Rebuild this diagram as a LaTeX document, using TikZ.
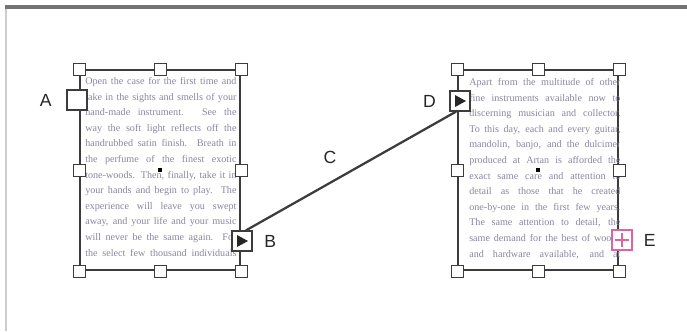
\documentclass[tikz,border=0pt]{standalone}
\usepackage{fontspec}
\setmainfont{Liberation Serif}
\newfontfamily\calloutfont{Liberation Sans}
\usetikzlibrary{positioning, calc}
\definecolor{framegray}{RGB}{60,60,60}
\definecolor{copygray}{RGB}{135,135,155}
\definecolor{overpink}{RGB}{222,100,160}
\newcommand{\jline}[1]{{\spaceskip=0pt\xspaceskip=0pt\makebox[\hsize][s]{#1}}}
\tikzset{
  textframe/.style={draw=framegray, line width=1.4pt, minimum width=4cm, minimum height=5cm, inner sep=0pt}, % the two threaded frames
  handle/.style={draw=framegray, fill=white, line width=0.6pt, minimum size=0.3cm, inner sep=0pt}, % selection handles
  port/.style={draw=framegray, fill=white, line width=0.8pt, minimum size=0.5cm, inner sep=0pt}, % in and out ports
  midpoint/.style={fill=black, minimum size=0.12cm, inner sep=0pt}, % frame centre
  callout/.style={font=\calloutfont\fontsize{12.5}{14}\selectfont, text=black!85, inner sep=1pt}, % letters A to E
  copytext/.style={anchor=north west, inner sep=0pt, text width=3.78cm, text=copygray, font=\fontsize{7.2}{11.1}\selectfont, align=left}, % story text
}
\begin{document}
\begin{tikzpicture}[x=0.025cm, y=-0.025cm]
  \useasboundingbox (0,0) rectangle (687,331);
  % window edges
  \draw[black!20, line width=2pt] (6,7) -- (6,331);
  \draw[black!55, line width=2.4pt] (5,7) -- (687,7);

  \node[textframe] (left) at (160,170) {};
  \node[textframe] (right) at (538,170) {};

  % story text, cut off at the frame edges
  \begin{scope}
    \clip (left.north west) rectangle (left.south east);
    \node[copytext] (leftcopy) at (85,77) {%
      \jline{Open the case for the first time and}\\
      \jline{take in the sights and smells of your}\\
      \jline{hand-made instrument. See the}\\
      \jline{way the soft light reflects off the}\\
      \jline{handrubbed satin finish. Breath in}\\
      \jline{the perfume of the finest exotic}\\
      \jline{tone-woods. Then, finally, take it in}\\
      \jline{your hands and begin to play. The}\\
      \jline{experience will leave you swept}\\
      \jline{away, and your life and your music}\\
      \jline{will never be the same again. For}\\
      \jline{the select few thousand individuals}};
  \end{scope}
  \begin{scope}
    \clip (right.north west) rectangle (right.south east);
    \node[copytext] (rightcopy) at (469,78) {%
      \jline{Apart from the multitude of other}\\
      \jline{fine instruments available now to}\\
      \jline{discerning musician and collector.}\\
      \jline{To this day, each and every guitar,}\\
      \jline{mandolin, banjo, and the dulcimer}\\
      \jline{produced at Artan is afforded the}\\
      \jline{exact same care and attention to}\\
      \jline{detail as those that he created}\\
      \jline{one-by-one in the first few years.}\\
      \jline{The same attention to detail, the}\\
      \jline{same demand for the best of woods}\\
      \jline{and hardware available, and at}};
  \end{scope}

  % handles and centre points
  \foreach \f in {left, right} {
    \foreach \a [count=\i] in {north west, north, north east, west, east, south west, south, south east}
      \node[handle] (\f h\i) at (\f.\a) {};
    \node[midpoint] (\f dot) at (\f.center) {};
  }

  % ports
  \node[port] (inA) at (77,100) {};
  \node[port] (outB) at (242,241) {};
  \node[port] (inD) at (460,101) {};
  \node[port, draw=overpink] (overE) at (622,240) {};
  \fill[black!85] ($(outB.center)+(-5,-6)$) -- ($(outB.center)+(6,0)$) -- ($(outB.center)+(-5,6)$) -- cycle;
  \fill[black!85] ($(inD.center)+(-5,-6)$) -- ($(inD.center)+(6,0)$) -- ($(inD.center)+(-5,6)$) -- cycle;
  \draw[overpink, line width=0.8pt] (overE.center) +(-7,0) -- +(7,0)
    (overE.center) +(0,-7) -- +(0,7);

  % thread
  \draw[framegray, line width=1.6pt] (outB.70) -- (inD.250);

  \node[callout, left=0.33cm of inA] (labA) {A};
  \node[callout, right=0.25cm of outB] (labB) {B};
  \node[callout] (labC) at (330,157) {C};
  \node[callout, left=0.3cm of inD] (labD) {D};
  \node[callout, right=0.24cm of overE] (labE) {E};
\end{tikzpicture}
\end{document}
